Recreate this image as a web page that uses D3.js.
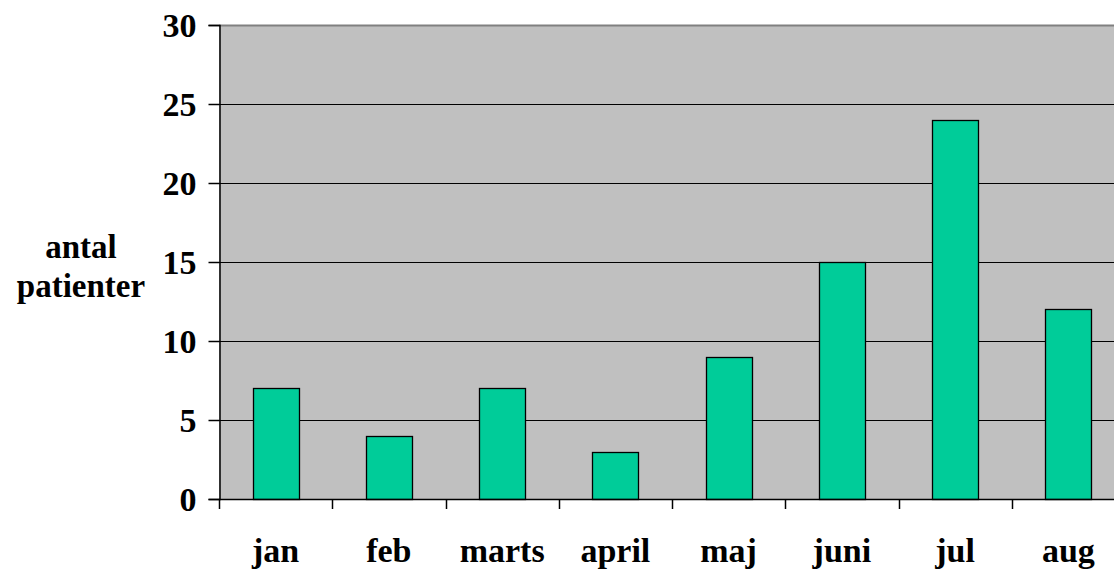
<!DOCTYPE html>
<html>
<head>
<meta charset="utf-8">
<script src="https://cdn.jsdelivr.net/npm/d3@7"></script>
<style>
  body { margin: 0; background: #fff; }
</style>
</head>
<body>
<svg id="chart" width="1114" height="570"></svg>
<script>
const months = ["jan", "feb", "marts", "april", "maj", "juni", "jul", "aug"];
const patients = [7, 4, 7, 3, 9, 15, 24, 12];
const yTicks = [0, 5, 10, 15, 20, 25, 30];
const titleLines = ["antal", "patienter"];

const plot = { left: 219, right: 1125, top: 25, bottom: 499 };
const font = "Liberation Serif";
const svg = d3.select("#chart");

const x = d3.scaleBand()
    .domain(months)
    .range([plot.left, plot.right])
    .paddingInner(0.594)
    .paddingOuter(0.297);
const y = d3.scaleLinear()
    .domain([0, 30])
    .range([plot.bottom, plot.top]);

// plot background
svg.append("rect")
    .attr("x", plot.left).attr("y", plot.top)
    .attr("width", plot.right - plot.left).attr("height", plot.bottom - plot.top)
    .attr("fill", "#c0c0c0");

// gridlines
svg.append("g").selectAll("line")
    .data(yTicks.filter(d => d > 0 && d < 30))
    .join("line")
    .attr("x1", plot.left).attr("x2", plot.right)
    .attr("y1", d => Math.round(y(d)) + 0.5).attr("y2", d => Math.round(y(d)) + 0.5)
    .attr("stroke", "#000");

// top border
svg.append("line")
    .attr("x1", plot.left).attr("x2", plot.right)
    .attr("y1", y(30) + 0.5).attr("y2", y(30) + 0.5)
    .attr("stroke", "#808080").attr("stroke-width", 2);

// bars
svg.append("g").selectAll("rect")
    .data(months)
    .join("rect")
    .attr("x", d => Math.round(x(d)) + 0.5)
    .attr("y", (d, i) => Math.round(y(patients[i])) + 0.5)
    .attr("width", Math.round(x.bandwidth()))
    .attr("height", (d, i) => Math.round(y(0)) - Math.round(y(patients[i])))
    .attr("fill", "#00cc99")
    .attr("stroke", "#000")
    .attr("stroke-width", 1.3);

// y axis
const yAxis = d3.axisLeft(y).tickValues(yTicks).tickSize(11).tickPadding(12);
const gy = svg.append("g")
    .attr("transform", `translate(${plot.left + 0.5},0)`)
    .call(yAxis)
    .attr("font-family", font)
    .attr("font-size", 34)
    .attr("font-weight", "bold");
gy.select(".domain").attr("stroke", "#000").attr("stroke-width", 1.5);
gy.selectAll(".tick line").attr("stroke", "#000").attr("stroke-width", 1.5);
gy.selectAll(".tick text").attr("fill", "#000").attr("dy", "0.34em");

// x axis: ticks between categories
const boundaries = d3.range(months.length + 1).map(i => plot.left + i * x.step());
const gx = svg.append("g")
    .attr("font-family", font)
    .attr("font-size", 34)
    .attr("font-weight", "bold");
gx.append("line")
    .attr("x1", plot.left).attr("x2", plot.right)
    .attr("y1", plot.bottom + 0.5).attr("y2", plot.bottom + 0.5)
    .attr("stroke", "#000").attr("stroke-width", 1.5);
gx.selectAll(".sep")
    .data(boundaries)
    .join("line")
    .attr("class", "sep")
    .attr("x1", d => Math.round(d) + 0.5).attr("x2", d => Math.round(d) + 0.5)
    .attr("y1", plot.bottom).attr("y2", plot.bottom + 10)
    .attr("stroke", "#000").attr("stroke-width", 1.5);
gx.selectAll("text")
    .data(months)
    .join("text")
    .attr("x", d => x(d) + x.bandwidth() / 2)
    .attr("y", 562)
    .attr("text-anchor", "middle")
    .text(d => d);

// axis title
svg.append("text")
    .attr("font-family", font)
    .attr("font-size", 33)
    .attr("font-weight", "bold")
    .attr("text-anchor", "middle")
    .selectAll("tspan")
    .data(titleLines)
    .join("tspan")
    .attr("x", 81)
    .attr("y", (d, i) => 258 + i * 39)
    .text(d => d);
</script>
</body>
</html>
